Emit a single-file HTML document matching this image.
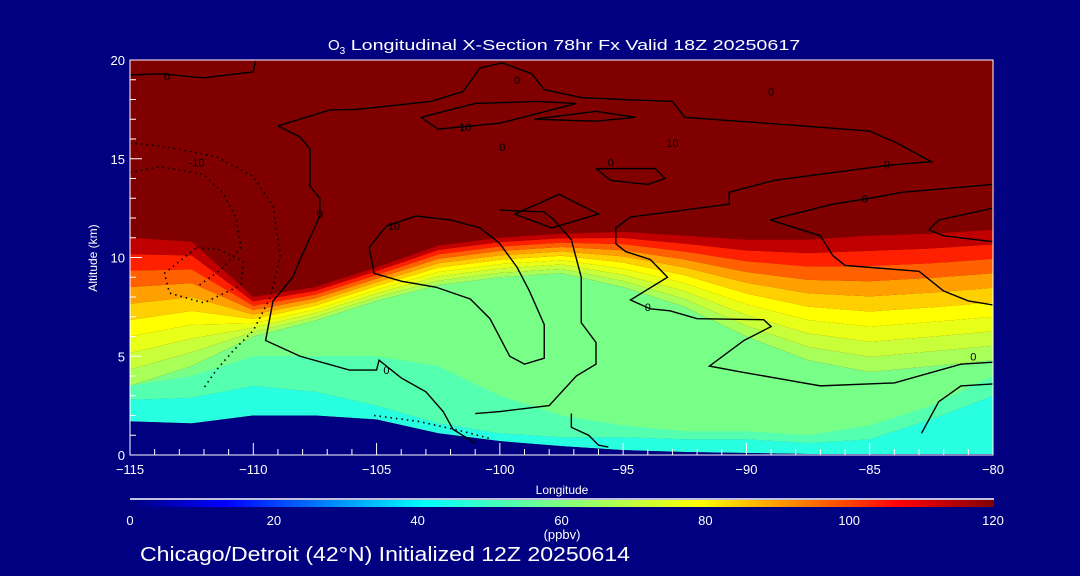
<!DOCTYPE html>
<html><head><meta charset="utf-8"><style>
html,body{margin:0;padding:0;background:#000080;}
svg{display:block;font-family:"Liberation Sans",sans-serif;}
</style></head><body>
<svg id="chart" width="1080" height="576" viewBox="0 0 1080 576">
<rect x="0" y="0" width="1080" height="576" fill="#000080"/>
<defs>
<linearGradient id="jet" x1="0" x2="1" y1="0" y2="0">
<stop offset="0" stop-color="#000080"/><stop offset="0.11" stop-color="#0000ff"/>
<stop offset="0.34" stop-color="#00ffff"/><stop offset="0.5" stop-color="#80ff80"/>
<stop offset="0.66" stop-color="#ffff00"/><stop offset="0.89" stop-color="#ff0000"/>
<stop offset="1" stop-color="#800000"/></linearGradient>
<clipPath id="plotclip"><rect x="130" y="60" width="863" height="395"/></clipPath>
</defs>
<g id="field" clip-path="url(#plotclip)"></g>
<g id="contours" clip-path="url(#plotclip)"></g>
<g id="axes"></g>
<text x="328" y="50" fill="#fff" font-size="15">O<tspan font-size="10" dy="4">3</tspan><tspan dy="-4" textLength="455" lengthAdjust="spacingAndGlyphs"> Longitudinal X-Section 78hr  Fx Valid 18Z 20250617</tspan></text>
<text x="97" y="258" fill="#fff" font-size="12" text-anchor="middle" transform="rotate(-90 97 258)">Altitude (km)</text>
<text x="562" y="494" fill="#fff" font-size="12" text-anchor="middle">Longitude</text>
<line x1="130" y1="499" x2="994" y2="499" stroke="#fff" stroke-width="1.5"/>
<rect x="130" y="500" width="864" height="7" fill="url(#jet)"/>
<g id="cbticks"></g>
<text x="562" y="539" fill="#fff" font-size="13" text-anchor="middle">(ppbv)</text>
<text x="140" y="561" fill="#fff" font-size="20" textLength="490" lengthAdjust="spacingAndGlyphs">Chicago/Detroit (42°N) Initialized 12Z 20250614</text>
</svg>
<script>
const lons = [-115,-112.5,-110,-107.5,-105,-102.5,-100,-97.5,-95,-92.5,-90,-87.5,-85,-82.5,-80];
const groundAlt = [1.7,1.6,2.0,2.0,1.8,1.1,0.7,0.45,0.25,0.15,0.1,0.05,0.05,0.05,0.05];
const cyanTop = [2.8,2.9,3.5,3.2,2.5,1.6,1.1,0.9,0.9,0.8,0.8,0.6,0.8,1.8,3.0];
const tealTop = [3.5,4.0,5.0,5.0,5.0,4.5,3.0,2.0,1.5,1.2,1.2,1.0,1.5,2.5,4.0];
const greenBot = [3.5,4.5,6.0,6.8,7.8,8.6,9.0,9.2,8.5,7.5,6.0,4.8,4.2,4.5,4.8];
const redTop = [11.0,10.8,8.0,8.5,9.5,10.6,11.0,11.2,11.3,11.1,10.9,10.9,11.1,11.2,11.4];
const bandColors = ["#a8ff58","#c8ff38","#e8ff18","#ffff00","#ffd000","#ffa000","#ff6000","#ff2000","#c00000"];
const xTicks = [-115,-110,-105,-100,-95,-90,-85,-80];
const yTicks = [0,5,10,15,20];
const cbTicks = [0,20,40,60,80,100,120];
const contourSolid = [
 [[-115,19.24],[-113.8,19.3],[-112,19.1],[-110,19.4],[-109.9,20]],
 [[-109,16.66],[-106.9,17.47],[-105.8,17.5],[-102.8,17.9],[-101.5,18.4],[-100.8,19.6],[-99.9,19.85],[-98.7,19.3],[-98.2,18.5],[-96.7,18.1],[-95,18],[-93,17.9],[-92.5,17.1],[-89.2,16.8],[-85,16.4],[-83.9,15.8],[-82.5,14.85],[-84,14.7],[-85,14.55],[-88.9,13.9],[-90.7,13.3],[-90.7,12.7],[-94.7,12.05],[-95.3,11.5],[-95.3,10.7],[-94.9,10.3],[-93.9,9.9],[-93.2,9],[-94.7,7.85],[-93.9,7.4],[-93.1,7.3],[-92,6.9],[-89.3,6.85],[-89,6.5],[-90.1,5.8],[-91.5,4.5],[-90.2,4.2],[-87,3.5],[-84,3.65],[-81.3,4.6],[-80,4.7]],
 [[-109,16.66],[-108.1,16.1],[-107.7,15.5],[-107.7,13.6],[-107.3,13],[-107.3,12.1],[-108.1,9.9],[-108.4,9],[-109.2,7.8],[-109.5,5.8],[-108.1,5],[-106.1,4.3],[-105,4.3],[-104.9,4.8],[-104,3.9],[-103,3.2],[-102.3,2.2],[-101.9,1.3],[-101,0.6]],
 [[-104.6,11.6],[-105.3,10.5],[-105.1,9.2],[-104,8.8],[-102.6,8.5],[-101.2,7.9],[-100.4,6.9],[-99.6,5.0],[-99,4.6],[-98.2,4.9],[-98.2,6.6],[-98.8,8.3],[-99.3,9.5],[-100,10.7],[-100.8,11.5],[-102,11.9],[-103.4,12.1],[-104.6,11.6]],
 [[-100,12.4],[-98.2,12.3],[-97.8,11.9],[-97.1,10.9],[-96.7,9.0],[-96.7,6.7],[-96.1,5.7],[-96.1,4.6],[-96.9,4.0],[-98,2.5],[-100,2.2],[-101,2.1]],
 [[-97.1,2.1],[-97.1,1.4],[-96.4,1.0],[-96,0.5],[-95.6,0.4]],
 [[-82.9,1.1],[-82.2,2.7],[-81.3,3.5],[-80,3.6]],
 [[-89.04,11.9],[-87,11.1],[-86.5,10.1],[-86,9.6],[-83,9.3],[-82,8.3],[-81,7.8],[-80,7.6]],
 [[-89.04,11.9],[-86.5,12.7],[-85,13.0],[-83.7,13.3],[-80,13.7]],
 [[-82.6,11.4],[-82.2,11.9],[-80,12.5]],
 [[-82.6,11.4],[-82,11.1],[-80,10.8]],
 [[-99.4,12.2],[-97.6,13.2],[-96,12.2],[-97.9,11.5],[-99.4,12.2]],
 [[-96.1,14.5],[-93.7,14.5],[-93.3,14.0],[-94,13.7],[-95.5,13.9],[-96.1,14.5]],
 [[-98.6,17],[-96.1,17.4],[-94.5,17.1],[-96.1,16.9],[-98.6,17]],
 [[-103.2,17.1],[-101,17.8],[-98.5,17.9],[-96.9,17.8],[-100,16.8],[-102.5,16.5],[-103.2,17.1]]
];
const contourDotted = [
 [[-115,15.8],[-113.5,15.6],[-111.5,15.1],[-110,14.1],[-109.2,12.6],[-108.9,10.1],[-109.3,8],[-110,6.3],[-110.8,5.3],[-111.5,4.3],[-112,3.4]],
 [[-115,14.3],[-113.8,14.6],[-112,14.2],[-111.2,13.2],[-110.7,12],[-110.5,10.5],[-111.3,9.4],[-112.3,8.5]],
 [[-112.3,10.5],[-111.4,10.4],[-110.4,9.8],[-110.5,8.6],[-112,7.7],[-113.4,8.2],[-113.6,9.2],[-112.3,10.5]],
 [[-105.1,2.0],[-103.3,1.7],[-101.5,1.2],[-100.3,0.8]]
];
const contourLabels = [["0",-113.5,19.2],["-10",-112.3,14.8],["0",-107.3,12.2],["10",-104.3,11.6],["10",-101.4,16.6],["0",-99.9,15.6],["0",-99.3,19.0],["0",-95.5,14.8],["10",-93,15.8],["0",-89,18.4],["0",-84.3,14.7],["0",-85.2,13.0],["0",-94,7.5],["0",-104.6,4.3],["0",-80.8,5.0]];

const X0=130, X1=993, Y0=455, Y1=60;
const xs = v => X0 + (v - (-115)) / 35 * (X1 - X0);
const ys = v => Y0 - v / 20 * (Y0 - Y1);
const NS = "http://www.w3.org/2000/svg";
const field = document.getElementById('field');
const cont = document.getElementById('contours');
const axes = document.getElementById('axes');
function mk(tag, attrs, parent){ const e=document.createElementNS(NS,tag); for(const k in attrs) e.setAttribute(k,attrs[k]); parent.appendChild(e); return e; }
function areaPath(lo, hi){
  let d = "M" + xs(lons[0]) + "," + ys(lo[0]);
  for(let i=1;i<lons.length;i++) d += "L" + xs(lons[i]) + "," + ys(lo[i]);
  for(let i=lons.length-1;i>=0;i--) d += "L" + xs(lons[i]) + "," + ys(hi[i]);
  return d + "Z";
}
const zeros = lons.map(()=>0), tops = lons.map(()=>20);
let bg = mk('path',{d:areaPath(zeros,tops),fill:'#800000'},field);


const n = bandColors.length;
for(let k=0;k<n;k++){
  const lo = lons.map((_,i)=> greenBot[i] + (redTop[i]-greenBot[i])*k/n);
  const hi = lons.map((_,i)=> greenBot[i] + (redTop[i]-greenBot[i])*(k+1)/n);
  const p = mk('path',{d:areaPath(lo,hi),fill:bandColors[k]},field);
  
  
}
let g1 = mk('path',{d:areaPath(cyanTop,greenBot),fill:'#78ff88'},field);


const tealHi = lons.map((_,i)=>Math.min(tealTop[i], greenBot[i]));
let t1 = mk('path',{d:areaPath(cyanTop,tealHi),fill:'#55ffb0'},field);


let c1 = mk('path',{d:areaPath(groundAlt,cyanTop),fill:'#28ffe0'},field);


let gr = mk('path',{d:areaPath(zeros,groundAlt),fill:'#000080'},field);



function line(pts, dotted){
  const d = pts.map((p,i)=>(i?"L":"M")+xs(p[0])+","+ys(p[1])).join("");
  const attrs = {d:d,fill:'none',stroke:'#000','stroke-width':1.4};
  if(dotted){ attrs['stroke-dasharray']='1.5 4'; attrs['stroke-width']=1.6; }
  return mk('path',attrs,cont);
}
contourSolid.forEach(c=>{ const p=line(c,false);
  
   });
contourDotted.forEach(c=>{ const p=line(c,true);
  
   });
contourLabels.forEach(l=>{ const t=mk('text',{x:xs(l[1]),y:ys(l[2])+4,'font-size':11,fill:'#000','text-anchor':'middle'},cont);
  t.textContent=l[0];
  
   });

const fr = mk('path',{d:`M${X0},${Y1}H${X1}V${Y0}H${X0}Z`,fill:'none',stroke:'#fff','stroke-width':1},axes);


for(let v=-115; v<=-80; v++){
  const major = xTicks.includes(v);
  const t = mk('line',{x1:xs(v),x2:xs(v),y1:Y0,y2:Y0-(major?12:6),stroke:'#fff'},axes);
  
  
}
xTicks.forEach(v=>{ const t=mk('text',{x:xs(v),y:Y0+19,fill:'#fff','font-size':13,'text-anchor':'middle'},axes);
  t.textContent = (v<0?'\u2212':'')+Math.abs(v);
  
   });
for(let v=0; v<=20; v+=1){
  const major = yTicks.includes(v);
  const t = mk('line',{x1:X0,x2:X0+(major?12:6),y1:ys(v),y2:ys(v),stroke:'#fff'},axes);
  
  
}
yTicks.forEach(v=>{ const t=mk('text',{x:X0-5,y:ys(v)+5,fill:'#fff','font-size':13,'text-anchor':'end'},axes);
  t.textContent = v;
  
   });
const cbg = document.getElementById('cbticks');
cbTicks.forEach(v=>{ const t=mk('text',{x:130+v/120*863,y:525,fill:'#fff','font-size':13,'text-anchor':'middle'},cbg);
  t.textContent = v;
  
   });
</script>
</body></html>
